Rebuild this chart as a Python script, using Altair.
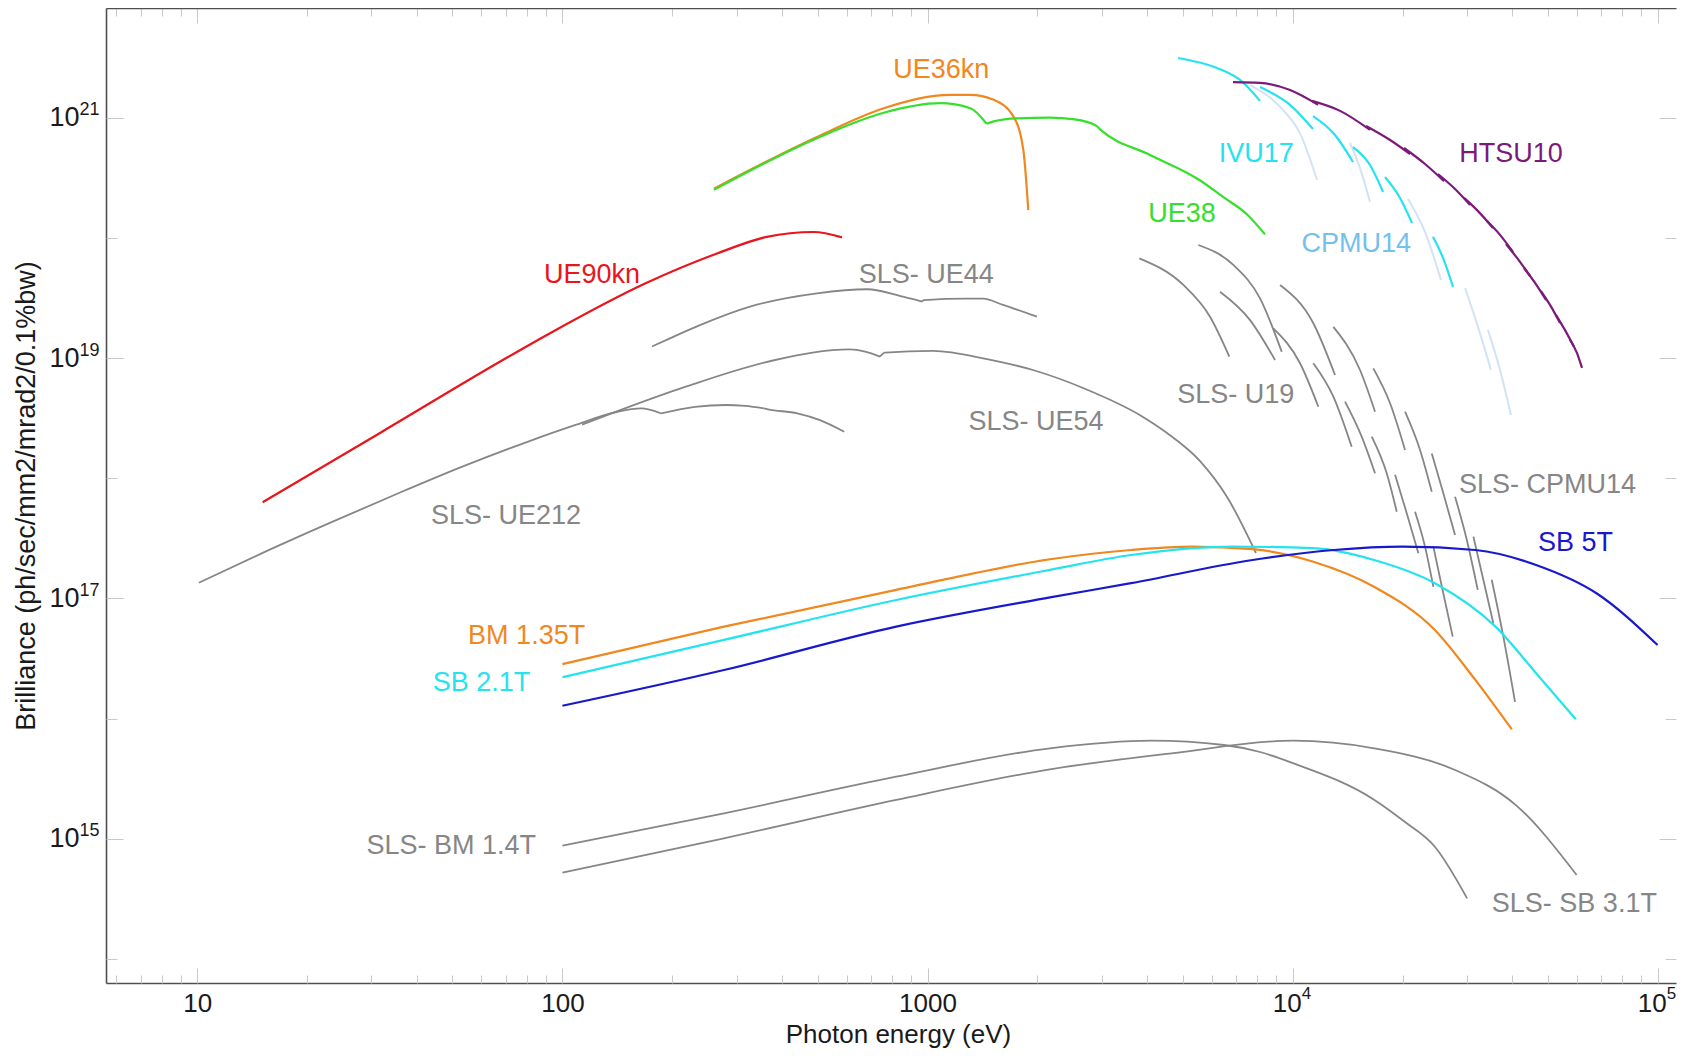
import altair as alt
import pandas as pd

# ------------------------------------------------------------------
# Values: photon energy (eV) and brilliance
# ------------------------------------------------------------------
# --- colored undulator curves ---
ue90kn_E = [[15.1, 32, 70, 92.5, 169, 265, 363, 487, 583]]
ue90kn_B = [[6.31e17, 2.43e18, 9.96e18, 1.61e19, 4.19e19, 7.41e19, 1.02e20, 1.12e20, 1.01e20]]

ue36kn_E = [[260, 498, 759, 1155, 1310, 1517, 1720, 1830, 1888]]
ue36kn_B = [[2.57e20, 6.92e20, 1.20e21, 1.55e21, 1.55e21, 1.41e21, 1.02e21, 5.37e20, 1.70e20]]

ue38_E = [[260, 498, 759, 1082, 1310, 1452],
          [1452, 1517, 1758, 2163, 2529, 2894, 2997, 4068, 5570, 6450, 7480, 8400]]
ue38_B = [[2.51e20, 6.76e20, 1.10e21, 1.32e21, 1.20e21, 8.91e20],
          [8.91e20, 9.33e20, 9.89e20, 1.0e21, 9.7e20, 8.6e20, 7.8e20, 4.90e20, 3.02e20, 2.19e20, 1.58e20, 1.07e20]]

ivu17_E = [[4855, 6207, 7178, 8141], [8141, 9838, 11372], [11372, 13065, 14634],
           [14634, 16292, 17688], [17910, 19684, 21233], [24236, 25813, 27500]]
ivu17_B = [[3.14e21, 2.59e21, 2.06e21, 1.38e21], [1.80e21, 1.28e21, 8.05e20], [1.03e21, 7.18e20, 4.28e20],
           [5.70e20, 4.04e20, 2.41e20], [3.21e20, 2.15e20, 1.33e20], [1.02e20, 6.81e19, 3.91e19]]

cpmu14_E = [[7644, 9412, 10478, 11663], [14360, 15295, 16292], [20702, 23046, 25489],
            [29664, 32189, 34937], [34283, 36983, 39638]]
cpmu14_B = [[1.87e21, 1.16e21, 7.4e20, 3.03e20], [6.16e20, 3.81e20, 1.99e20], [2.11e20, 1.12e20, 4.47e19],
            [3.83e19, 1.82e19, 7.96e18], [1.71e19, 7.96e18, 3.36e18]]

htsu10_E = [[6868, 8141, 9838, 11740], [11300, 13486, 16292], [15886, 18484, 20966],
            [20190, 23046, 25976], [25012, 27850, 30615], [29480, 32189, 35382],
            [34071, 36983, 40142], [38407, 41167, 44687], [43029, 46120, 49430],
            [47894, 50695, 53995], [52647, 55727, 58980], [57513, 60105, 62033]]
htsu10_B = [[1.98e21, 1.95e21, 1.70e21, 1.28e21], [1.38e21, 1.14e21, 7.91e20], [8.53e20, 6.52e20, 4.99e20],
            [5.60e20, 4.12e20, 2.97e20], [3.40e20, 2.55e20, 1.88e20], [2.15e20, 1.67e20, 1.21e20],
            [1.38e20, 1.06e20, 7.63e19], [8.90e19, 6.81e19, 4.82e19], [5.62e19, 4.22e19, 3.04e19],
            [3.61e19, 2.77e19, 1.96e19], [2.28e19, 1.71e19, 1.24e19], [1.42e19, 1.10e19, 8.28e18]]

# --- colored bending magnets / superbends ---
bm135_E = [[100, 277, 821, 2165, 3609, 5294, 7766, 11394, 16710, 24518, 31650, 39820]]
bm135_B = [[2.84e16, 5.83e16, 1.18e17, 2.12e17, 2.53e17, 2.70e17, 2.57e17, 2.02e17, 1.25e17, 5.47e16, 2.10e16, 8.16e15]]

sb21_E = [[100, 277, 821, 2165, 3609, 6836, 11394, 16710, 24518, 35950, 46430, 59640]]
sb21_B = [[2.21e16, 4.52e16, 9.72e16, 1.73e17, 2.30e17, 2.70e17, 2.62e17, 2.09e17, 1.34e17, 5.83e16, 2.39e16, 9.89e15]]

sb5_E = [[100, 277, 821, 2165, 3609, 7766, 12942, 19980, 31650, 46430, 68110, 99880]]
sb5_B = [[1.28e16, 2.54e16, 5.83e16, 1.02e17, 1.34e17, 2.09e17, 2.53e17, 2.70e17, 2.53e17, 1.90e17, 1.10e17, 4.10e16]]

# --- SLS (gray) ---
sls_ue212_E = [[10.1, 15, 22.9, 34.9, 53.2, 81.3, 107.7, 140.7, 164.2, 186.5],
               [186.5, 230.8, 280.4, 316.3, 356], [356, 365.6, 439.9, 507.6, 591.3]]
sls_ue212_B = [[1.35e17, 2.37e17, 4.21e17, 7.33e17, 1.25e18, 2.04e18, 2.75e18, 3.56e18, 3.81e18, 3.46e18],
               [3.46e18, 3.92e18, 4.07e18, 4.0e18, 3.82e18], [3.82e18, 3.75e18, 3.47e18, 3.05e18, 2.44e18]]

sls_ue44_E = [[176, 197, 238, 326.5, 498, 683, 857, 966], [966, 978, 1280, 1419, 1610, 1994]]
sls_ue44_B = [[1.25e19, 1.46e19, 1.88e19, 2.68e19, 3.46e19, 3.74e19, 3.24e19, 2.95e19],
              [2.95e19, 3.04e19, 3.12e19, 3.12e19, 2.77e19, 2.21e19]]

sls_ue54_E = [[113.2, 142.7, 217.6, 382.2, 613.5, 674.3, 741.1], [741.1, 764.8, 1035, 1366],
              [1366, 1945, 2667, 3892, 4529, 5577, 6614, 7937]]
sls_ue54_B = [[2.80e18, 3.65e18, 5.78e18, 9.64e18, 1.18e19, 1.13e19, 1.03e19], [1.03e19, 1.11e19, 1.15e19, 1.02e19],
              [1.02e19, 7.96e18, 5.64e18, 3.24e18, 2.38e18, 1.39e18, 6.99e17, 2.39e17]]

sls_u19_E = [[3803, 5019, 5939, 6708], [5518, 6880, 8141, 9335], [6326, 7644, 8950], [9237, 11394, 13065]]
sls_u19_B = [[6.76e19, 4.06e19, 2.21e19, 1.03e19], [8.73e19, 5.96e19, 3.14e19, 1.13e19],
             [3.56e19, 2.07e19, 9.64e18], [4.06e19, 1.95e19, 7.23e18]]

sls_cpmu14_E = [[8855, 10478, 11760], [11394, 12928, 14513], [12928, 15295, 16815], [13915, 15458, 16815],
                [16466, 18099, 19283], [16634, 18487, 20320], [19080, 20537, 22098], [20320, 22334, 24044],
                [21640, 23046, 24288], [24044, 25868, 27850], [24288, 25868, 27449], [27850, 29997, 32137],
                [31265, 33288, 35455], [35098, 37766, 40657]]
sls_cpmu14_B = [[1.77e19, 9.06e18, 3.94e18], [9.06e18, 4.78e18, 1.83e18], [1.82e19, 7.96e18, 3.58e18],
                [4.34e18, 2.22e18, 1.10e18], [2.22e18, 1.10e18, 5.27e17], [8.22e18, 4.21e18, 1.72e18],
                [1.07e18, 5.12e17, 2.38e17], [3.58e18, 1.72e18, 7.74e17], [5.27e17, 2.70e17, 1.25e17],
                [1.61e18, 7.50e17, 3.37e17], [2.70e17, 1.10e17, 4.81e16], [7.03e17, 3.07e17, 1.18e17],
                [3.27e17, 1.43e17, 6.22e16], [1.43e17, 4.81e16, 1.38e16]]

sls_bm14_E = [[100, 277, 821, 2165, 4102, 6488, 8141, 10025, 16710, 20320, 24518, 30050]]
sls_bm14_B = [[8.78e14, 1.63e15, 3.29e15, 5.67e15, 6.56e15, 6.04e15, 5.28e15, 4.26e15, 2.12e15, 1.38e15,
               8.6e14, 3.20e14]]

sls_sb31_E = [[100, 277, 821, 2165, 4660, 10025, 16710, 27850, 40870, 59950]]
sls_sb31_B = [[5.23e14, 1.01e15, 2.11e15, 3.79e15, 5.15e15, 6.56e15, 5.67e15, 3.74e15, 1.91e15, 5.01e14]]

# --- curve labels ---
label_text = ["UE36kn", "UE90kn", "IVU17", "HTSU10", "UE38", "CPMU14", "SB 5T", "BM 1.35T", "SB 2.1T"]
label_E = [1091, 120.5, 7948, 39620, 4979, 14940, 59520, 79.8, 60.0]
label_B = [2.50e21, 4.91e19, 5.02e20, 5.02e20, 1.59e20, 8.91e19, 2.91e17, 4.86e16, 1.97e16]

sls_label_text = ["SLS- UE44", "SLS- U19", "SLS- UE54", "SLS- UE212", "SLS- CPMU14", "SLS- BM 1.4T",
                  "SLS- SB 3.1T"]
sls_label_E = [992, 6989, 1981, 70.1, 49880, 49.6, 59100]
sls_label_B = [4.91e19, 4.89e18, 2.92e18, 4.88e17, 8.87e17, 8.78e14, 2.89e14]

# --- axis ticks ---
x_major_a = [10, 100, 1000]
x_major_a_labels = ["10", "100", "1000"]
x_major_b = [1e4, 1e5]
x_major_b_base = ["10", "10"]
x_major_b_exp = ["4", "5"]
x_major = x_major_a + x_major_b
x_minor = [m * 10 ** k for k in range(0, 5) for m in range(2, 10) if 5.6 < m * 10 ** k < 1.1e5]
y_major = [1e15, 1e17, 1e19, 1e21]
y_major_base = ["10", "10", "10", "10"]
y_major_exp = ["15", "17", "19", "21"]
y_minor = [1e14, 1e16, 1e18, 1e20]

# ------------------------------------------------------------------
# Styles
# ------------------------------------------------------------------
RED, ORANGE, GREEN = "#e8151c", "#f0871f", "#36df2b"
CYAN, BLUE, PURPLE = "#24e3ef", "#1818cc", "#7b1a79"
GRAY, PALE, SKY = "#868686", "#d3e2f4", "#72c0ee"
label_colors = [ORANGE, RED, CYAN, PURPLE, GREEN, SKY, BLUE, ORANGE, CYAN]

FONT = "Liberation Sans"
W, H = 1570, 975
X_DOMAIN = [5.623, 112200]
Y_DOMAIN = [6.32e13, 8.18e21]


def table(groups):
    rows = []
    for name, color, Es, Bs in groups:
        for k, (es, bs) in enumerate(zip(Es, Bs)):
            for i, (e, b) in enumerate(zip(es, bs)):
                rows.append({"series": name, "seg": f"{name}-{k}", "E": e, "B": b, "col": color, "i": i})
    return pd.DataFrame(rows)


pale_df = table([("CPMU14", PALE, cpmu14_E, cpmu14_B)])
gray_und_df = table([
    ("SLS-UE212", GRAY, sls_ue212_E, sls_ue212_B), ("SLS-UE44", GRAY, sls_ue44_E, sls_ue44_B),
    ("SLS-UE54", GRAY, sls_ue54_E, sls_ue54_B), ("SLS-U19", GRAY, sls_u19_E, sls_u19_B),
    ("SLS-CPMU14", GRAY, sls_cpmu14_E, sls_cpmu14_B),
])
gray_bm_df = table([("SLS-BM1.4", GRAY, sls_bm14_E, sls_bm14_B), ("SLS-SB3.1", GRAY, sls_sb31_E, sls_sb31_B)])
und_df = table([
    ("UE90kn", RED, ue90kn_E, ue90kn_B), ("UE36kn", ORANGE, ue36kn_E, ue36kn_B),
    ("UE38", GREEN, ue38_E, ue38_B), ("IVU17", CYAN, ivu17_E, ivu17_B),
    ("HTSU10", PURPLE, htsu10_E, htsu10_B),
])
bm_df = table([
    ("BM1.35", ORANGE, bm135_E, bm135_B), ("SB2.1", CYAN, sb21_E, sb21_B), ("SB5", BLUE, sb5_E, sb5_B),
])
lab_df = pd.DataFrame({"text": label_text, "E": label_E, "B": label_B, "col": label_colors})
sls_lab_df = pd.DataFrame({"text": sls_label_text, "E": sls_label_E, "B": sls_label_B})


def expr_for(vals, labs):
    expr = "''"
    for v, l in reversed(list(zip(vals, labs))):
        expr = f"abs(datum.value / {v!r} - 1) < 1e-6 ? '{l}' : " + expr
    return expr


xs = alt.Scale(type="log", domain=X_DOMAIN, nice=False)
ys = alt.Scale(type="log", domain=Y_DOMAIN, nice=False)
TICK = "#c9c9c9"
FRAME = "#4f4f4f"
INK = "#1a1a1a"


def tick_axis(orient, offset, values, size, domain=False):
    kw = dict(orient=orient, offset=offset, values=values, tickSize=size, labels=False,
              title=None, grid=False, ticks=True, tickColor=TICK, tickWidth=1, domain=domain)
    if domain:
        kw.update(domainColor=FRAME, domainWidth=1.6)
    return alt.Axis(**kw)


def label_axis(orient, values, labels, size, padding, align, baseline, offset=0, domain=False, **extra):
    kw = dict(orient=orient, values=values, labelExpr=expr_for(values, labels), ticks=False, grid=False,
              domain=domain, labelFont=FONT, labelFontSize=size, labelColor=INK, labelPadding=padding,
              labelFlush=False, labelOverlap=False, labelAlign=align, labelBaseline=baseline,
              labelOffset=offset, title=None)
    if domain:
        kw.update(domainColor=FRAME, domainWidth=1.6)
    kw.update(extra)
    return alt.Axis(**kw)


x_axis_main = label_axis("bottom", x_major_a, x_major_a_labels, 26, 7, "center", "top", domain=True,
                         title="Photon energy (eV)", titleFont=FONT, titleFontSize=26, titleFontWeight="normal",
                         titleColor=INK, titleX=792, titleY=59, titleAlign="center", titleBaseline="alphabetic")
x_axis_base = label_axis("bottom", x_major_b, x_major_b_base, 26, 7, "center", "top", offset=-6)
x_axis_exp = label_axis("bottom", x_major_b, x_major_b_exp, 17, 2, "left", "top", offset=8.5)

y_axis_main = label_axis("left", y_major, y_major_base, 27, 27, "right", "middle", domain=True,
                         title="Brilliance (ph/sec/mm2/mrad2/0.1%bw)", titleFont=FONT, titleFontSize=27,
                         titleFontWeight="normal", titleColor=INK, titleX=-72, titleY=H / 2,
                         titleAngle=270, titleAlign="center", titleBaseline="alphabetic")
y_axis_exp = label_axis("left", y_major, y_major_exp, 18, 7, "right", "middle", offset=-8)


def lines(df, xaxis, yaxis, width):
    return alt.Chart(df).mark_line(strokeWidth=width, interpolate="monotone").encode(
        x=alt.X("E:Q", scale=xs, axis=xaxis),
        y=alt.Y("B:Q", scale=ys, axis=yaxis),
        color=alt.Color("col:N", scale=None),
        detail="seg:N",
        order="i:Q",
    )


pale = lines(pale_df, tick_axis("bottom", -H, x_minor, 8), tick_axis("left", -W, y_minor, 11), 2.0)
gray_und = lines(gray_und_df, x_axis_main, y_axis_main, 1.8)
gray_bm = lines(gray_bm_df, x_axis_base, y_axis_exp, 1.8)
und = lines(und_df, tick_axis("top", -H, x_major, 15), tick_axis("right", -W, y_major, 17), 2.2)
bm = lines(bm_df, tick_axis("bottom", -H, x_major, 15, domain=True), tick_axis("left", -W, y_major, 17), 2.2)
text = alt.Chart(lab_df).mark_text(font=FONT, fontSize=27, align="center", baseline="middle").encode(
    x=alt.X("E:Q", scale=xs, axis=tick_axis("top", -H, x_minor, 8)),
    y=alt.Y("B:Q", scale=ys, axis=tick_axis("right", -W, y_minor, 11)),
    text="text:N",
    color=alt.Color("col:N", scale=None),
)
sls_text = alt.Chart(sls_lab_df).mark_text(font=FONT, fontSize=27, align="center", baseline="middle",
                                           color=GRAY).encode(
    x=alt.X("E:Q", scale=xs, axis=x_axis_exp),
    y=alt.Y("B:Q", scale=ys, axis=None),
    text="text:N",
)

chart = alt.layer(pale, gray_und, gray_bm, und, bm, text, sls_text).resolve_axis(
    x="independent", y="independent"
).properties(
    width=W, height=H,
    autosize=alt.AutoSizeParams(type="none"),
    padding={"left": 98, "top": 0, "right": 1, "bottom": 65},
    background="white",
).configure_view(stroke=None)

chart.save("out.html", embed_options={"renderer": "svg", "actions": False})
